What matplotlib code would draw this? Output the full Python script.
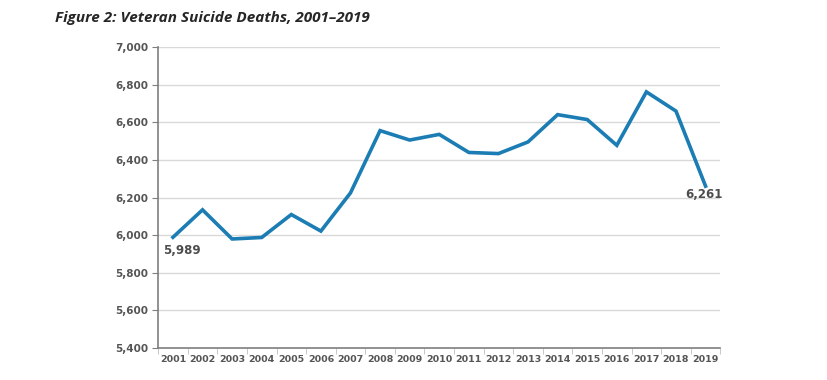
import matplotlib
matplotlib.use("Agg")
import matplotlib.pyplot as plt
from matplotlib.ticker import FuncFormatter, FixedLocator

years = [str(y) for y in range(2001, 2020)]
deaths = [5989, 6135, 5980, 5988, 6110, 6022, 6225, 6556, 6506, 6536,
          6440, 6434, 6496, 6641, 6615, 6478, 6762, 6660, 6261]
y_ticks = list(range(5400, 7001, 200))

line_color = "#1b7db4"
text_color = "#4d4d4d"

fig = plt.figure(figsize=(8.28, 3.8), dpi=100)
ax = fig.add_axes([0.191, 0.084, 0.679, 0.792])

x = list(range(len(years)))
ax.plot(x, deaths, color=line_color, lw=2.6, solid_joinstyle="miter", zorder=3)

ax.set_xlim(-0.5, len(years) - 0.5)
ax.set_ylim(5400, 7000)
ax.set_yticks(y_ticks)
ax.yaxis.set_major_formatter(FuncFormatter(lambda v, p: f"{int(v):,}"))
ax.set_xticks(x)
ax.set_xticklabels(years)
ax.xaxis.set_minor_locator(FixedLocator([i - 0.5 for i in range(len(years) + 1)]))

ax.grid(axis="y", color="#d9d9d9", lw=1, zorder=0)
for s in ["top", "right"]:
    ax.spines[s].set_visible(False)
for s in ["left", "bottom"]:
    ax.spines[s].set_color("#7f7f7f")
    ax.spines[s].set_linewidth(1.2)

ax.tick_params(axis="y", length=4, color="#7f7f7f", labelsize=7.5,
               labelcolor="#555555", pad=3)
ax.tick_params(axis="x", which="major", length=0, labelsize=6.8,
               labelcolor="#555555", pad=5)
ax.tick_params(axis="x", which="minor", length=4, color="#bfbfbf")
for lab in ax.get_xticklabels() + ax.get_yticklabels():
    lab.set_fontweight("bold")

ax.annotate(f"{deaths[0]:,}", (x[0], deaths[0]), xytext=(-7, -5),
            textcoords="offset points", ha="left", va="top",
            fontsize=8.5, fontweight="bold", color=text_color)
ax.annotate(f"{deaths[-1]:,}", (x[-1], deaths[-1]), xytext=(12, -1),
            textcoords="offset points", ha="right", va="top",
            fontsize=8.5, fontweight="bold", color=text_color)

fig.text(0.066, 0.952, "Figure 2: Veteran Suicide Deaths, 2001\u20132019",
         fontsize=11, fontweight="bold", fontstyle="italic",
         color="#262626", ha="left", va="center", family="Open Sans")

fig.savefig("out.png", dpi=100)
